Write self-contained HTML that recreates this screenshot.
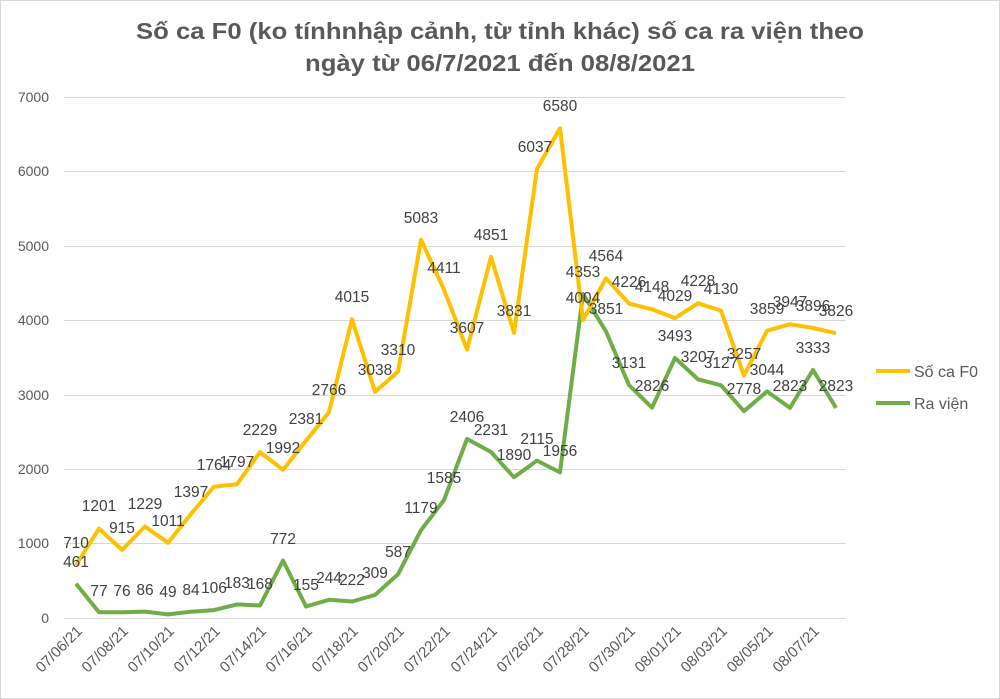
<!DOCTYPE html>
<html><head><meta charset="utf-8"><style>
html,body{margin:0;padding:0;background:#fff}
svg{display:block}
text{font-family:"Liberation Sans",sans-serif}
</style></head><body>
<svg width="1000" height="699" viewBox="0 0 1000 699" xmlns="http://www.w3.org/2000/svg">
<rect x="0.5" y="0.5" width="999" height="698" fill="#fff" stroke="#d9d9d9"/>
<g font-weight="bold" fill="#595959" font-size="23" text-anchor="middle">
<text x="500" y="39" textLength="728" lengthAdjust="spacingAndGlyphs">Số ca F0 (ko tínhnhập cảnh, từ tỉnh khác) số ca ra viện theo</text>
<text x="500" y="71" textLength="390" lengthAdjust="spacingAndGlyphs">ngày từ 06/7/2021 đến 08/8/2021</text>
</g>
<g stroke="#d9d9d9" stroke-width="1">
<line x1="64" x2="846" y1="97.5" y2="97.5"/>
<line x1="64" x2="846" y1="171.5" y2="171.5"/>
<line x1="64" x2="846" y1="246.5" y2="246.5"/>
<line x1="64" x2="846" y1="320.5" y2="320.5"/>
<line x1="64" x2="846" y1="395.5" y2="395.5"/>
<line x1="64" x2="846" y1="469.5" y2="469.5"/>
<line x1="64" x2="846" y1="543.5" y2="543.5"/>
<line x1="64" x2="846" y1="618.5" y2="618.5"/>
</g>
<g fill="#595959" font-size="14" text-anchor="end">
<text x="49" y="102">7000</text><text x="49" y="176">6000</text><text x="49" y="251">5000</text><text x="49" y="325">4000</text><text x="49" y="400">3000</text><text x="49" y="474">2000</text><text x="49" y="548">1000</text><text x="49" y="623">0</text>
</g>
<g fill="#595959" font-size="15" text-anchor="end">
<text transform="translate(83,632) rotate(-45)">07/06/21</text>
<text transform="translate(129,632) rotate(-45)">07/08/21</text>
<text transform="translate(175,632) rotate(-45)">07/10/21</text>
<text transform="translate(221,632) rotate(-45)">07/12/21</text>
<text transform="translate(267,632) rotate(-45)">07/14/21</text>
<text transform="translate(313,632) rotate(-45)">07/16/21</text>
<text transform="translate(359,632) rotate(-45)">07/18/21</text>
<text transform="translate(405,632) rotate(-45)">07/20/21</text>
<text transform="translate(451,632) rotate(-45)">07/22/21</text>
<text transform="translate(498,632) rotate(-45)">07/24/21</text>
<text transform="translate(544,632) rotate(-45)">07/26/21</text>
<text transform="translate(590,632) rotate(-45)">07/28/21</text>
<text transform="translate(636,632) rotate(-45)">07/30/21</text>
<text transform="translate(682,632) rotate(-45)">08/01/21</text>
<text transform="translate(728,632) rotate(-45)">08/03/21</text>
<text transform="translate(774,632) rotate(-45)">08/05/21</text>
<text transform="translate(820,632) rotate(-45)">08/07/21</text>
</g>
<polyline fill="none" stroke="#70ad47" stroke-width="4" stroke-linejoin="round" points="76,583.7 99,612.3 122,612.3 145,611.6 168,614.4 191,611.7 214,610.1 237,604.4 260,605.5 283,560.5 306,606.5 329,599.8 352,601.5 375,595 398,574.3 421,530.2 444,500 467,438.9 491,452 514,477.3 537,460.6 560,472.4 583,294 606,331.4 629,385 652,407.7 675,358 698,379.3 721,385.3 744,411.2 767,391.4 790,407.9 813,369.9 836,407.9"/>
<polyline fill="none" stroke="#ffc000" stroke-width="4" stroke-linejoin="round" points="76,565.2 99,528.6 122,549.9 145,526.5 168,542.8 191,514 214,486.7 237,484.2 260,452.1 283,469.7 306,440.8 329,412.1 352,319.2 375,391.9 398,371.6 421,239.7 444,289.7 467,349.5 491,256.9 514,332.9 537,168.7 560,128.2 583,320 606,278.3 629,303.5 652,309.3 675,318.1 698,303.3 721,310.6 744,375.6 767,330.8 790,324.2 813,328 836,333.2"/>
<g fill="#404040" font-size="15.5" text-anchor="middle">
<text x="76" y="548">710</text><text x="99" y="511">1201</text><text x="122" y="533">915</text><text x="145" y="509">1229</text><text x="168" y="526">1011</text><text x="191" y="497">1397</text><text x="214" y="470">1764</text><text x="237" y="467">1797</text><text x="260" y="435">2229</text><text x="283" y="453">1992</text><text x="306" y="424">2381</text><text x="329" y="395">2766</text><text x="352" y="302">4015</text><text x="375" y="375">3038</text><text x="398" y="355">3310</text><text x="421" y="223">5083</text><text x="444" y="273">4411</text><text x="467" y="333">3607</text><text x="491" y="240">4851</text><text x="514" y="316">3831</text><text x="535" y="152">6037</text><text x="560" y="111">6580</text><text x="583" y="303">4004</text><text x="606" y="261">4564</text><text x="629" y="287">4226</text><text x="652" y="292">4148</text><text x="675" y="301">4029</text><text x="698" y="286">4228</text><text x="721" y="294">4130</text><text x="744" y="359">3257</text><text x="767" y="314">3859</text><text x="790" y="307">3947</text><text x="813" y="311">3896</text><text x="836" y="316">3826</text>
<text x="76" y="567">461</text><text x="99" y="596">77</text><text x="122" y="596">76</text><text x="145" y="595">86</text><text x="168" y="597">49</text><text x="191" y="595">84</text><text x="214" y="593">106</text><text x="237" y="588">183</text><text x="260" y="589">168</text><text x="283" y="544">772</text><text x="306" y="590">155</text><text x="329" y="583">244</text><text x="352" y="585">222</text><text x="375" y="578">309</text><text x="398" y="557">587</text><text x="421" y="513">1179</text><text x="444" y="483">1585</text><text x="467" y="422">2406</text><text x="491" y="435">2231</text><text x="514" y="460">1890</text><text x="537" y="444">2115</text><text x="560" y="456">1956</text><text x="583" y="277">4353</text><text x="606" y="314">3851</text><text x="629" y="368">3131</text><text x="652" y="391">2826</text><text x="675" y="341">3493</text><text x="698" y="362">3207</text><text x="721" y="368">3127</text><text x="744" y="394">2778</text><text x="767" y="375">3044</text><text x="790" y="391">2823</text><text x="813" y="353">3333</text><text x="836" y="391">2823</text>
</g>
<line x1="876" x2="910" y1="371" y2="371" stroke="#ffc000" stroke-width="4"/>
<line x1="876" x2="910" y1="403" y2="403" stroke="#70ad47" stroke-width="4"/>
<g fill="#595959" font-size="16">
<text x="914" y="377">Số ca F0</text>
<text x="914" y="409">Ra viện</text>
</g>
</svg>
</body></html>
